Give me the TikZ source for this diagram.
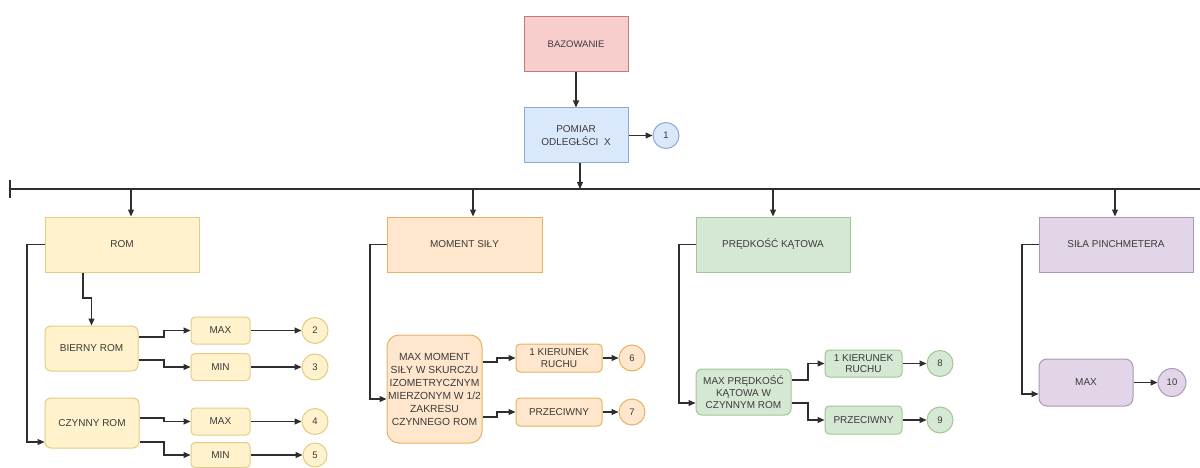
\documentclass[tikz,border=0pt]{standalone}
\usepackage{fontspec}
\setmainfont{Liberation Sans}
\usetikzlibrary{arrows.meta,calc}
\definecolor{txt}{HTML}{3A3A3A}
\definecolor{ln}{HTML}{2E2E2E}
\definecolor{redF}{HTML}{F8CECC}\definecolor{redD}{HTML}{C47A76}
\definecolor{bluF}{HTML}{DAE8FC}\definecolor{bluD}{HTML}{8FA9CF}
\definecolor{yelF}{HTML}{FFF2CC}\definecolor{yelD}{HTML}{E3CD86}
\definecolor{oraF}{HTML}{FFE6CC}\definecolor{oraD}{HTML}{E3B363}
\definecolor{grnF}{HTML}{D5E8D4}\definecolor{grnD}{HTML}{A3C792}
\definecolor{purF}{HTML}{E1D5E7}\definecolor{purD}{HTML}{AE95BC}
\tikzset{
  base/.style={draw, line width=1pt, text=txt, font=\fontsize{10}{12.5}\selectfont, align=center, inner sep=1pt},
  sq/.style={base, rectangle},
  rnd/.style={base, rectangle, rounded corners=6pt},
  num/.style={base, circle, minimum size=26pt, inner sep=0pt, font=\fontsize{9.5}{10}\selectfont},
  red/.style={fill=redF, draw=redD},
  blu/.style={fill=bluF, draw=bluD},
  yel/.style={fill=yelF, draw=yelD},
  ora/.style={fill=oraF, draw=oraD},
  grn/.style={fill=grnF, draw=grnD},
  pur/.style={fill=purF, draw=purD},
  arr/.style={draw=ln, line width=1.1pt, -{Triangle[length=7pt,width=6pt]}},
  wire/.style={draw=ln, line width=1.1pt}
}
\begin{document}
\begin{tikzpicture}[x=1pt,y=-1pt]
\useasboundingbox[fill=white] (0,0) rectangle (1200,468);
% top
\node[sq,red,minimum width=104pt,minimum height=55pt,font=\fontsize{9.5}{11}\selectfont] (baz) at (576,44.5) {BAZOWANIE};
\node[sq,blu,minimum width=104pt,minimum height=55pt] (pom) at (576,135.5) {POMIAR\\ODLEGŁŚCI~~X};
\node[num,fill=bluF,draw=bluD] (c1) at (666,135.5) {1};
\draw[arr] (baz) -- (pom);
\draw[arr] (pom) -- (c1);
% bus
\coordinate (busL) at (10,189);
\coordinate (busR) at (1200,189);
\coordinate (busT) at (10,180);
\coordinate (busB) at (10,198);
\draw[wire] (busL) -- (busR);
\draw[wire] (busT) -- (busB);
\draw[arr] (580,0 |- pom.south) -- (580,0 |- busL);
% headers
\node[sq,yel,minimum width=154pt,minimum height=55pt] (rom) at (122,244.5) {ROM};
\node[sq,ora,minimum width=155pt,minimum height=55pt] (mom) at (464.5,244.5) {MOMENT SIŁY};
\node[sq,grn,minimum width=154pt,minimum height=55pt] (pred) at (773,244.5) {PRĘDKOŚĆ KĄTOWA};
\node[sq,pur,minimum width=154pt,minimum height=55pt] (sila) at (1116,244.5) {SIŁA PINCHMETERA};
\draw[arr] (131,0 |- busL) -- (131,0 |- rom.north);
\draw[arr] (473,0 |- busL) -- (473,0 |- mom.north);
\draw[arr] (pred.north |- busL) -- (pred.north);
\draw[arr] (1115,0 |- busL) -- (1115,0 |- sila.north);
% ROM branch
\node[rnd,yel,minimum width=93pt,minimum height=45pt] (bier) at (91.5,348.5) {BIERNY ROM};
\node[rnd,yel,minimum width=94pt,minimum height=50pt] (czy) at (92,423) {CZYNNY ROM};
\node[rnd,yel,minimum width=59pt,minimum height=27pt,rounded corners=4pt] (max2) at (220.5,330.5) {MAX};
\node[rnd,yel,minimum width=59pt,minimum height=27pt,rounded corners=4pt] (min3) at (220.5,367) {MIN};
\node[rnd,yel,minimum width=59pt,minimum height=27pt,rounded corners=4pt] (max4) at (220.5,421.5) {MAX};
\node[rnd,yel,minimum width=59pt,minimum height=25pt,rounded corners=4pt] (min5) at (220.5,455) {MIN};
\node[num,fill=yelF,draw=yelD] (c2) at (315,330.5) {2};
\node[num,fill=yelF,draw=yelD] (c3) at (315,367) {3};
\node[num,fill=yelF,draw=yelD] (c4) at (315,421.5) {4};
\node[num,fill=yelF,draw=yelD,minimum size=24pt] (c5) at (315,455) {5};
\draw[arr] (rom.west) -- (27,0 |- rom.west) |- (czy.west |- 0,442);
\draw[arr] (83,0 |- rom.south) -- (83,298) -| (bier.north);
\draw[arr] (bier.east |- 0,337) -- (164,337) |- (max2.west);
\draw[arr] (bier.east |- 0,360) -- (164,360) |- (min3.west);
\draw[arr] (czy.east |- 0,418) -- (164,418) |- (max4.west);
\draw[arr] (czy.east |- 0,442) -- (164,442) |- (min5.west);
\draw[arr] (max2) -- (c2);
\draw[arr] (min3) -- (c3);
\draw[arr] (max4) -- (c4);
\draw[arr] (min5) -- (c5);
% MOMENT branch
\node[rnd,ora,minimum width=95pt,minimum height=108pt,rounded corners=12pt,font=\fontsize{10.3}{13}\selectfont] (mm) at (434.5,389) {MAX MOMENT\\SIŁY W SKURCZU\\IZOMETRYCZNYM\\MIERZONYM W 1/2\\ZAKRESU\\CZYNNEGO ROM};
\node[rnd,ora,minimum width=86pt,minimum height=28pt,rounded corners=4pt,font=\fontsize{10}{11.5}\selectfont] (k6) at (559,358) {1 KIERUNEK\\RUCHU};
\node[rnd,ora,minimum width=86pt,minimum height=28pt,rounded corners=4pt] (p7) at (559,412) {PRZECIWNY};
\node[num,fill=oraF,draw=oraD] (c6) at (632,358) {6};
\node[num,fill=oraF,draw=oraD] (c7) at (632,412) {7};
\draw[arr] (mom.west) -- (370,0 |- mom.west) |- (mm.west |- 0,399);
\draw[arr] (mm.east |- 0,362) -- (497,362) |- (k6.west);
\draw[arr] (mm.east |- 0,417) -- (497,417) |- (p7.west);
\draw[arr] (k6) -- (c6);
\draw[arr] (p7) -- (c7);
% PREDKOSC branch
\node[rnd,grn,minimum width=95pt,minimum height=46pt,font=\fontsize{10}{12}\selectfont] (mp) at (743.5,392) {MAX PRĘDKOŚĆ\\KĄTOWA W\\CZYNNYM ROM};
\node[rnd,grn,minimum width=77pt,minimum height=27pt,rounded corners=4pt,font=\fontsize{10}{11.5}\selectfont] (k8) at (863.5,363.5) {1 KIERUNEK\\RUCHU};
\node[rnd,grn,minimum width=77pt,minimum height=28pt,rounded corners=4pt] (p9) at (863.5,420) {PRZECIWNY};
\node[num,fill=grnF,draw=grnD] (c8) at (940,363.5) {8};
\node[num,fill=grnF,draw=grnD] (c9) at (940,420) {9};
\draw[arr] (pred.west) -- (679,0 |- pred.west) |- (mp.west |- 0,403);
\draw[arr] (mp.east |- 0,380) -- (808,380) |- (k8.west);
\draw[arr] (mp.east |- 0,403) -- (808,403) |- (p9.west);
\draw[arr] (k8) -- (c8);
\draw[arr] (p9) -- (c9);
% SILA branch
\node[rnd,pur,minimum width=94pt,minimum height=47pt,rounded corners=8pt] (smax) at (1086,382.5) {MAX};
\node[num,fill=purF,draw=purD,minimum size=28pt] (c10) at (1172,382.5) {10};
\draw[arr] (sila.west) -- (1022,0 |- sila.west) |- (smax.west |- 0,394);
\draw[arr] (smax) -- (c10);
\end{tikzpicture}
\end{document}
